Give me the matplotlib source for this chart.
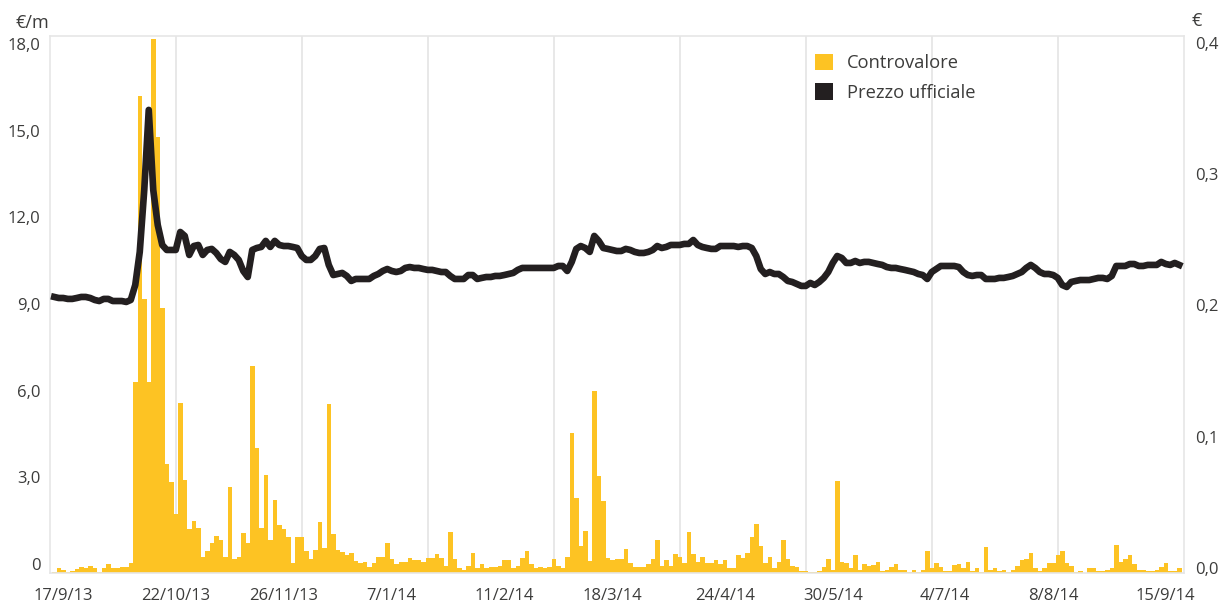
import matplotlib
matplotlib.use("Agg")
import matplotlib.pyplot as plt
import matplotlib.transforms as mtransforms
from matplotlib.patches import Patch
import numpy as np

plt.rcParams['font.family'] = ['Open Sans', 'DejaVu Sans']

# Daily traded value (EUR m), one bar per trading day
controvalore = [
    0.02, 0.16, 0.10, 0.04, 0.08, 0.13, 0.21, 0.16, 0.24, 0.16,
    0.02, 0.17, 0.30, 0.17, 0.17, 0.21, 0.21, 0.36, 6.61, 16.53,
    9.50, 6.61, 18.50, 15.11, 9.18, 3.77, 3.15, 2.03, 5.90, 3.23,
    1.54, 1.80, 1.57, 0.55, 0.77, 1.03, 1.29, 1.13, 0.55, 2.98,
    0.49, 0.57, 1.39, 1.03, 7.16, 4.33, 1.57, 3.39, 1.15, 2.51,
    1.67, 1.54, 1.26, 0.36, 1.26, 1.26, 0.75, 0.47, 0.80, 1.75,
    0.87, 5.86, 1.35, 0.80, 0.74, 0.62, 0.70, 0.43, 0.36, 0.39,
    0.20, 0.36, 0.57, 0.57, 1.03, 0.47, 0.30, 0.38, 0.38, 0.51,
    0.44, 0.44, 0.39, 0.52, 0.52, 0.66, 0.52, 0.25, 1.42, 0.47,
    0.16, 0.12, 0.25, 0.70, 0.16, 0.31, 0.18, 0.20, 0.20, 0.24,
    0.44, 0.44, 0.16, 0.25, 0.52, 0.75, 0.31, 0.16, 0.20, 0.17,
    0.20, 0.47, 0.25, 0.16, 0.55, 4.86, 2.61, 0.93, 1.47, 0.43,
    6.30, 3.36, 2.50, 0.53, 0.44, 0.47, 0.47, 0.83, 0.36, 0.20,
    0.20, 0.20, 0.31, 0.47, 1.14, 0.25, 0.44, 0.25, 0.66, 0.57,
    0.36, 1.42, 0.66, 0.39, 0.57, 0.36, 0.36, 0.44, 0.31, 0.44,
    0.16, 0.16, 0.62, 0.53, 0.70, 1.26, 1.70, 0.93, 0.36, 0.57,
    0.16, 0.39, 1.14, 0.47, 0.25, 0.20, 0.07, 0.07, 0.03, 0.03,
    0.07, 0.20, 0.47, 0.12, 3.18, 0.39, 0.35, 0.16, 0.62, 0.12,
    0.31, 0.24, 0.26, 0.38, 0.07, 0.12, 0.20, 0.31, 0.12, 0.12,
    0.05, 0.12, 0.03, 0.12, 0.75, 0.16, 0.35, 0.20, 0.07, 0.07,
    0.26, 0.31, 0.16, 0.39, 0.07, 0.16, 0.03, 0.89, 0.12, 0.16,
    0.07, 0.12, 0.03, 0.12, 0.25, 0.44, 0.47, 0.70, 0.16, 0.07,
    0.16, 0.35, 0.35, 0.62, 0.75, 0.35, 0.25, 0.03, 0.07, 0.00,
    0.16, 0.16, 0.07, 0.07, 0.12, 0.16, 0.97, 0.38, 0.47, 0.61,
    0.30, 0.12, 0.12, 0.07, 0.07, 0.12, 0.20, 0.35, 0.07, 0.07,
    0.16,
]

# Official price (EUR)
prezzo = [
    0.2103, 0.2095, 0.2095, 0.2088, 0.2088, 0.2095, 0.2103, 0.2103, 0.2095, 0.2080,
    0.2072, 0.2088, 0.2088, 0.2072, 0.2072, 0.2072, 0.2065, 0.2080, 0.2194, 0.2446,
    0.2918, 0.3528, 0.2918, 0.2651, 0.2499, 0.2461, 0.2461, 0.2461, 0.2598, 0.2568,
    0.2423, 0.2491, 0.2499, 0.2423, 0.2461, 0.2469, 0.2438, 0.2392, 0.2370, 0.2446,
    0.2423, 0.2385, 0.2301, 0.2255, 0.2461, 0.2476, 0.2484, 0.2530, 0.2484, 0.2530,
    0.2499, 0.2491, 0.2491, 0.2484, 0.2476, 0.2415, 0.2385, 0.2385, 0.2415, 0.2469,
    0.2476, 0.2347, 0.2270, 0.2278, 0.2286, 0.2263, 0.2225, 0.2240, 0.2240, 0.2240,
    0.2240, 0.2263, 0.2278, 0.2301, 0.2316, 0.2301, 0.2293, 0.2301, 0.2324, 0.2331,
    0.2324, 0.2324, 0.2316, 0.2309, 0.2309, 0.2301, 0.2293, 0.2293, 0.2263, 0.2240,
    0.2240, 0.2240, 0.2270, 0.2270, 0.2240, 0.2248, 0.2255, 0.2255, 0.2263, 0.2263,
    0.2270, 0.2278, 0.2286, 0.2309, 0.2324, 0.2324, 0.2324, 0.2324, 0.2324, 0.2324,
    0.2324, 0.2324, 0.2339, 0.2339, 0.2301, 0.2370, 0.2469, 0.2491, 0.2476, 0.2446,
    0.2568, 0.2530, 0.2476, 0.2469, 0.2461, 0.2453, 0.2453, 0.2469, 0.2461, 0.2446,
    0.2438, 0.2438, 0.2446, 0.2461, 0.2491, 0.2476, 0.2484, 0.2499, 0.2499, 0.2499,
    0.2507, 0.2507, 0.2537, 0.2499, 0.2484, 0.2476, 0.2469, 0.2469, 0.2491, 0.2491,
    0.2491, 0.2491, 0.2484, 0.2491, 0.2491, 0.2476, 0.2415, 0.2316, 0.2278, 0.2293,
    0.2278, 0.2278, 0.2255, 0.2225, 0.2217, 0.2202, 0.2187, 0.2187, 0.2210, 0.2194,
    0.2217, 0.2248, 0.2293, 0.2362, 0.2415, 0.2400, 0.2362, 0.2362, 0.2377, 0.2362,
    0.2370, 0.2370, 0.2362, 0.2354, 0.2347, 0.2331, 0.2324, 0.2324, 0.2316, 0.2309,
    0.2301, 0.2293, 0.2278, 0.2270, 0.2240, 0.2293, 0.2316, 0.2339, 0.2339, 0.2339,
    0.2339, 0.2331, 0.2293, 0.2270, 0.2263, 0.2270, 0.2270, 0.2240, 0.2240, 0.2240,
    0.2248, 0.2248, 0.2255, 0.2263, 0.2278, 0.2293, 0.2324, 0.2347, 0.2324, 0.2293,
    0.2278, 0.2278, 0.2270, 0.2248, 0.2194, 0.2179, 0.2217, 0.2225, 0.2232, 0.2232,
    0.2232, 0.2240, 0.2248, 0.2248, 0.2240, 0.2263, 0.2339, 0.2339, 0.2339, 0.2354,
    0.2354, 0.2339, 0.2339, 0.2347, 0.2347, 0.2347, 0.2370, 0.2354, 0.2347, 0.2362,
    0.2347,
]

date_pos = [2, 27, 51, 75, 100, 124, 149, 173, 198, 222, 247]
date_labels = ['17/9/13', '22/10/13', '26/11/13', '7/1/14', '11/2/14', '18/3/14',
               '24/4/14', '30/5/14', '4/7/14', '8/8/14', '15/9/14']

left_ticks = [0, 3, 6, 9, 12, 15, 18]
left_labels = ['0', '3,0', '6,0', '9,0', '12,0', '15,0', '18,0']
right_ticks = [0.0, 0.1, 0.2, 0.3, 0.4]
right_labels = ['0,0', '0,1', '0,2', '0,3', '0,4']

YELLOW = '#FDC323'
DARK = '#231F20'
GRID = '#E6E6E6'
TEXT = '#3C3C3B'

fig = plt.figure(figsize=(12.19, 6.03), dpi=100)
ax = fig.add_axes([50 / 1219, 30 / 603, 1134 / 1219, 537 / 603])

x = np.arange(len(controvalore))
x0 = -0.5 - 2 / 4.5
ax.set_xlim(x0, x0 + 252)
ax.set_ylim(0, 18.59)

# vertical gridlines splitting the plot in 9 equal parts
for k in range(1, 9):
    ax.axvline(x0 + 28 * k, color=GRID, lw=1.3, zorder=0)

ax.bar(x, controvalore, width=1.0, color=YELLOW, linewidth=0, zorder=2)

ax.set_xticks(date_pos)
ax.set_xticklabels(date_labels)
ax.set_yticks(left_ticks)
ax.set_yticklabels(left_labels)
ax.tick_params(length=0, labelsize=12, labelcolor=TEXT)
ax.tick_params(axis='x', pad=11)
ax.tick_params(axis='y', pad=7)
for sp in ax.spines.values():
    sp.set_color(GRID)
    sp.set_linewidth(1.2)

ax2 = ax.twinx()
ax2.plot(x, prezzo, color=DARK, lw=4.8, solid_joinstyle='round', zorder=3)
ax2.set_ylim(0, 0.4091)
ax2.set_yticks(right_ticks)
ax2.set_yticklabels(right_labels)
ax2.tick_params(length=0, labelsize=12, labelcolor=TEXT, pad=8)
for sp in ax2.spines.values():
    sp.set_visible(False)

# tick labels sit a little above their ticks in the original
up_left = mtransforms.ScaledTranslation(0, 9 / 100, fig.dpi_scale_trans)
up_right = mtransforms.ScaledTranslation(0, 5 / 100, fig.dpi_scale_trans)
for lbl in ax.get_yticklabels():
    lbl.set_transform(lbl.get_transform() + up_left)
for lbl in ax2.get_yticklabels():
    lbl.set_transform(lbl.get_transform() + up_right)

fig.text(16 / 1219, 1 - 23 / 603, '€/m', fontsize=13, color=TEXT, va='center', ha='left')
fig.text(1192 / 1219, 1 - 21 / 603, '€', fontsize=13, color=TEXT, va='center', ha='left')

handles = [Patch(facecolor=YELLOW, edgecolor='none'), Patch(facecolor=DARK, edgecolor='none')]
fig.legend(handles, ['Controvalore', 'Prezzo ufficiale'], loc='upper left',
           bbox_to_anchor=(815 / 1219, 1 - 54 / 603), frameon=False,
           handlelength=1.0, handleheight=1.0, handletextpad=0.75,
           labelspacing=0.6, borderpad=0, borderaxespad=0,
           fontsize=13.2, labelcolor=TEXT)

fig.savefig('out.png', dpi=100)
